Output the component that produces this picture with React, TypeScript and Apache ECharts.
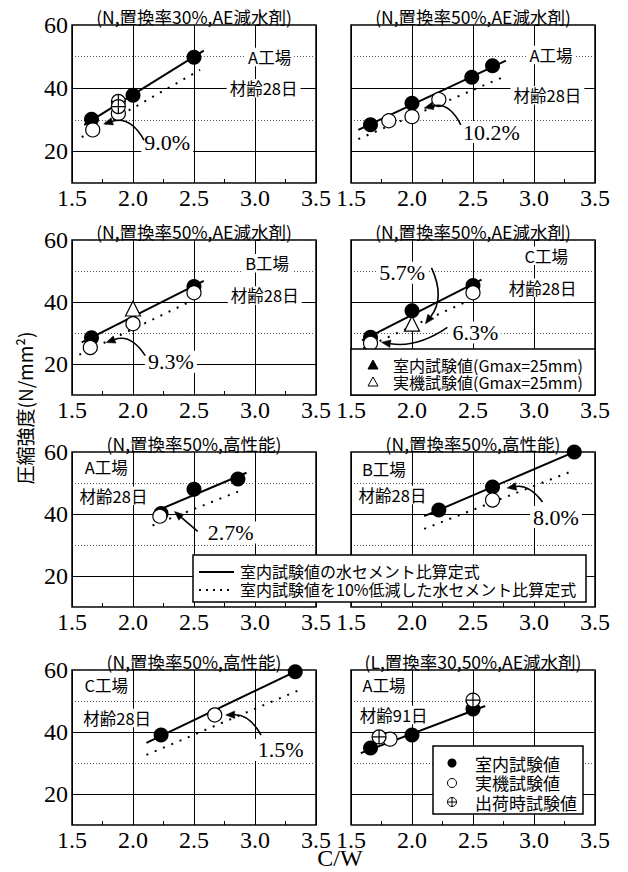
import React, { useEffect, useRef } from 'react';
import * as echarts from 'echarts';

const FONT_SANS = '"Noto Sans CJK JP", "Noto Sans", sans-serif';
const FONT_SERIF = '"Liberation Serif", "DejaVu Serif", serif';

// layout
const COL_LEFT = [72, 351];
const PLOT_W = 244;
const ROW_TOP = [25, 240, 452, 670];
const PLOT_H = [158, 155, 155, 155];

// axes
const xMin = 1.5, xMax = 3.5, xStep = 0.5;
const yMin = 10, yMax = 60, yStep = 10;
const yShownLabels = [20, 40, 60];
const yMajorLines = [20, 40];

// texts
const panelTitles = [
  '(N,置換率30%,AE減水剤)', '(N,置換率50%,AE減水剤)',
  '(N,置換率50%,AE減水剤)', '(N,置換率50%,AE減水剤)',
  '(N,置換率50%,高性能)', '(N,置換率50%,高性能)',
  '(N,置換率50%,高性能)', '(L,置換率30,50%,AE減水剤)',
];
const plantLabels = ['A工場', 'A工場', 'B工場', 'C工場', 'A工場', 'B工場', 'C工場', 'A工場'];
const ageLabels = ['材齢28日', '材齢28日', '材齢28日', '材齢28日', '材齢28日', '材齢28日', '材齢28日', '材齢91日'];
const plantPos = [[3.12, 49.9], [3.14, 50.5], [3.1, 52.5], [3.1, 54.9], [1.78, 55.2], [1.77, 54.5], [1.78, 55.2], [1.77, 55.2]];
const agePos = [[3.07, 40], [3.11, 37.8], [3.08, 42.1], [3.07, 44.6], [1.84, 45.9], [1.84, 46.1], [1.87, 44.5], [1.85, 45.5]];

// regression lines
const solidLines = [
  [[1.6, 28.4], [2.58, 51.9]],
  [[1.56, 26.8], [2.77, 48.7]],
  [[1.58, 27], [2.58, 46.8]],
  [[1.59, 27.6], [2.57, 47.2]],
  [[2.18, 40.8], [2.93, 53.3]],
  [[2.1, 39.3], [3.36, 60.5]],
  [[2.11, 36.5], [3.33, 59.5]],
  [[1.58, 33.2], [2.6, 48.4]],
];
const dottedLines = [
  [[1.58, 24.5], [2.55, 45.8]],
  [[1.56, 23.9], [2.77, 43.9]],
  [[1.56, 23], [2.45, 39.8]],
  [[1.6, 25], [2.45, 40.2]],
  [[2.16, 36.3], [2.91, 48]],
  [[2.1, 35.2], [3.29, 53.5]],
  [[2.11, 32.6], [3.36, 53.5]],
  [],
];

// points
const labCircles = [
  [[1.66, 30.2], [2.0, 37.8], [2.5, 49.8]],
  [[1.66, 28.4], [2.0, 35.2], [2.49, 43.5], [2.66, 47.1]],
  [[1.66, 28.5], [2.5, 45]],
  [[1.66, 28.6], [2.0, 37.2], [2.5, 45.3]],
  [[2.23, 40.2], [2.5, 48], [2.86, 51.3]],
  [[2.22, 41.3], [2.66, 48.7], [3.33, 60]],
  [[2.23, 39], [3.33, 59.4]],
  [[1.66, 34.8], [2.0, 39], [2.5, 47.4]],
];
const fieldCircles = [
  [[1.67, 26.8], [1.88, 32]],
  [[1.81, 29.7], [2.0, 31], [2.22, 36.4]],
  [[1.65, 25.3], [2.0, 33], [2.5, 43]],
  [[1.66, 26.7], [2.5, 43]],
  [[2.22, 39.3]],
  [[2.66, 44.5]],
  [[2.67, 45.5]],
  [[1.82, 37.7]],
];
const labTriangles = [[], [], [[2.0, 34.5]], [], [], [], [], []];
const fieldTriangles = [[], [], [[2.0, 37.9]], [[2.0, 33]], [], [], [], []];
const shipCircles = [[[1.88, 35.8], [1.88, 34.2]], [], [], [], [], [], [], [[1.73, 38.4], [2.5, 50.3]]];

// percentage annotations
const pctPanels = [0, 1, 2, 3, 3, 4, 5, 6];
const pctTexts = ['9.0%', '10.2%', '9.3%', '5.7%', '6.3%', '2.7%', '8.0%', '1.5%'];
const pctPos = [[2.28, 22.7], [2.65, 26.1], [2.31, 20.7], [1.92, 49.4], [2.52, 30.2], [2.8, 34], [3.18, 39], [3.21, 34.2]];
const arrowFrom = [[2.09, 23.6], [2.4, 28.4], [2.1, 22.7], [2.16, 51], [2.29, 31.8], [2.53, 34.4], [3.07, 43.9], [3.05, 39]];
const arrowTo = [[1.76, 28.7], [2.1, 33.7], [1.78, 26.9], [2.11, 33], [1.75, 27], [2.34, 40.8], [2.78, 48.4], [2.76, 45.5]];
const arrowCurve = [-0.4, -0.4, -0.4, 0.3, 0.2, 0, -0.3, -0.3];

const legendTri = ['室内試験値(Gmax=25mm)', '実機試験値(Gmax=25mm)'];
const legendLines = ['室内試験値の水セメント比算定式', '室内試験値を10%低減した水セメント比算定式'];
const legendPoints = ['室内試験値', '実機試験値', '出荷時試験値'];

const PLUS_CIRCLE = 'path://M0 -10A10 10 0 1 1 0 10A10 10 0 1 1 0 -10ZM-10 0L10 0M0 -10L0 10';

function staticGraphics() {
  const g: any[] = [];
  for (let i = 0; i < 8; i++) {
    const row = Math.floor(i / 2);
    const col = i % 2;
    g.push({
      type: 'text', z: 50,
      style: {
        text: panelTitles[i], x: COL_LEFT[col] + PLOT_W / 2, y: ROW_TOP[row] - 9,
        textAlign: 'center', textVerticalAlign: 'middle',
        font: `17.5px ${FONT_SANS}`, fill: '#000',
      },
    });
  }
  g.push({
    type: 'text', z: 50, x: 24, y: 408, rotation: Math.PI / 2,
    style: {
      text: '圧縮強度(N/mm²)', x: 0, y: 0, textAlign: 'center', textVerticalAlign: 'middle',
      font: `19px ${FONT_SANS}`, fill: '#000',
    },
  });
  g.push({
    type: 'text', z: 50,
    style: {
      text: 'C/W', x: 340, y: 858, textAlign: 'center', textVerticalAlign: 'middle',
      font: `24px ${FONT_SERIF}`, fill: '#000',
    },
  });

  // legend: triangles (panel 4)
  const l4x = COL_LEFT[1], l4y = 349, l4h = ROW_TOP[1] + PLOT_H[1] - 349;
  g.push({
    type: 'rect', z: 60, shape: { x: l4x, y: l4y, width: PLOT_W, height: l4h },
    style: { fill: '#fff', stroke: '#000', lineWidth: 1.5 },
  });
  g.push({
    type: 'polygon', z: 61, shape: { points: [[373, 360], [368, 369], [378, 369]] },
    style: { fill: '#000', stroke: '#000', lineWidth: 1 },
  });
  g.push({
    type: 'polygon', z: 61, shape: { points: [[373, 377], [368, 386], [378, 386]] },
    style: { fill: '#fff', stroke: '#000', lineWidth: 1 },
  });
  legendTri.forEach((t, j) => {
    g.push({
      type: 'text', z: 61,
      style: { text: t, x: 393, y: 365 + j * 17, textVerticalAlign: 'middle', font: `16px ${FONT_SANS}`, fill: '#000' },
    });
  });

  // legend: lines (panels 5-6)
  g.push({
    type: 'rect', z: 60, shape: { x: 193, y: 555, width: 393, height: 47 },
    style: { fill: '#fff', stroke: '#000', lineWidth: 1.5 },
  });
  g.push({
    type: 'line', z: 61, shape: { x1: 199, y1: 572, x2: 234, y2: 572 },
    style: { stroke: '#000', lineWidth: 2 },
  });
  g.push({
    type: 'line', z: 61, shape: { x1: 199, y1: 590, x2: 234, y2: 590 },
    style: { stroke: '#000', lineWidth: 2, lineDash: [2, 5] },
  });
  legendLines.forEach((t, j) => {
    g.push({
      type: 'text', z: 61,
      style: { text: t, x: 240, y: 571 + j * 18, textVerticalAlign: 'middle', font: `16px ${FONT_SANS}`, fill: '#000' },
    });
  });

  // legend: points (panel 8)
  g.push({
    type: 'rect', z: 60, shape: { x: 433, y: 746, width: 150, height: 68 },
    style: { fill: '#fff', stroke: '#000', lineWidth: 1.5 },
  });
  g.push({ type: 'circle', z: 61, shape: { cx: 452, cy: 763, r: 4.5 }, style: { fill: '#000' } });
  g.push({ type: 'circle', z: 61, shape: { cx: 452, cy: 783, r: 4.5 }, style: { fill: '#fff', stroke: '#000', lineWidth: 1 } });
  g.push({ type: 'circle', z: 61, shape: { cx: 452, cy: 802, r: 4.5 }, style: { fill: '#fff', stroke: '#000', lineWidth: 1 } });
  g.push({ type: 'line', z: 62, shape: { x1: 447.5, y1: 802, x2: 456.5, y2: 802 }, style: { stroke: '#000', lineWidth: 1 } });
  g.push({ type: 'line', z: 62, shape: { x1: 452, y1: 797.5, x2: 452, y2: 806.5 }, style: { stroke: '#000', lineWidth: 1 } });
  legendPoints.forEach((t, j) => {
    g.push({
      type: 'text', z: 61,
      style: { text: t, x: 475, y: 763 + j * 19.5, textVerticalAlign: 'middle', font: `17px ${FONT_SANS}`, fill: '#000' },
    });
  });
  return g;
}

function buildOption() {
  const grid: any[] = [];
  const xAxis: any[] = [];
  const yAxis: any[] = [];
  const series: any[] = [];

  for (let i = 0; i < 8; i++) {
    const row = Math.floor(i / 2);
    const col = i % 2;
    grid.push({
      left: COL_LEFT[col], top: ROW_TOP[row], width: PLOT_W, height: PLOT_H[row],
      show: true, borderColor: '#000', borderWidth: 1.5, backgroundColor: '#fff',
    });
    xAxis.push({
      gridIndex: i, type: 'value', min: xMin, max: xMax, interval: xStep,
      axisLine: { show: false },
      axisTick: { show: true, inside: true, length: 4, lineStyle: { color: '#000' } },
      minorTick: { show: true, splitNumber: 2, length: 4, lineStyle: { color: '#000' } },
      axisLabel: {
        color: '#000', fontFamily: FONT_SERIF, fontSize: 24, margin: 3,
        formatter: (v: number) => v.toFixed(1),
      },
      splitLine: { show: true, lineStyle: { color: '#000', width: 1 } },
    });
    yAxis.push({
      gridIndex: i, type: 'value', min: yMin, max: yMax, interval: yStep,
      axisLine: { show: false }, axisTick: { show: false },
      axisLabel: {
        show: col === 0, color: '#000', fontFamily: FONT_SERIF, fontSize: 24, margin: 4,
        formatter: (v: number) => (yShownLabels.indexOf(v) >= 0 ? String(v) : ''),
      },
      splitLine: { show: true, lineStyle: { color: '#555', width: 1, type: [1, 2] } },
    });

    const ax = { xAxisIndex: i, yAxisIndex: i };
    series.push({
      ...ax, type: 'line', data: solidLines[i], symbol: 'none', silent: true, z: 3,
      lineStyle: { color: '#000', width: 2 },
      markLine: {
        silent: true, symbol: 'none', z: 2, animation: false,
        label: { show: false },
        lineStyle: { color: '#000', width: 1, type: 'solid' },
        emphasis: { disabled: true },
        data: yMajorLines.map((v) => ({ yAxis: v })),
      },
    });
    if (dottedLines[i].length) {
      series.push({
        ...ax, type: 'line', data: dottedLines[i], symbol: 'none', silent: true, z: 3,
        lineStyle: { color: '#000', width: 2, type: [2, 7] },
      });
    }
    series.push({
      ...ax, type: 'scatter', data: labCircles[i], symbol: 'circle', symbolSize: 15, z: 4, silent: true,
      itemStyle: { color: '#000', opacity: 1 },
    });
    series.push({
      ...ax, type: 'scatter', data: labTriangles[i], symbol: 'triangle', symbolSize: 15, z: 4, silent: true,
      itemStyle: { color: '#000', opacity: 1 },
    });
    series.push({
      ...ax, type: 'scatter', data: fieldCircles[i], symbol: 'circle', symbolSize: 14, z: 5, silent: true,
      itemStyle: { color: '#fff', borderColor: '#000', borderWidth: 1.2, opacity: 1 },
    });
    series.push({
      ...ax, type: 'scatter', data: fieldTriangles[i], symbol: 'triangle', symbolSize: 15, z: 5, silent: true,
      itemStyle: { color: '#fff', borderColor: '#000', borderWidth: 1.2, opacity: 1 },
    });
    series.push({
      ...ax, type: 'scatter', data: shipCircles[i], symbol: PLUS_CIRCLE, symbolSize: 14, z: 5, silent: true,
      itemStyle: { color: '#fff', borderColor: '#000', borderWidth: 1.2, opacity: 1 },
    });
    series.push({
      ...ax, type: 'scatter', symbolSize: 1, z: 6, silent: true,
      itemStyle: { color: 'rgba(0,0,0,0)', opacity: 1 },
      label: {
        show: true, position: 'inside', formatter: (p: any) => p.name,
        fontFamily: FONT_SANS, fontSize: 16.5, color: '#000', backgroundColor: '#fff', padding: [1, 3],
      },
      data: [
        { name: plantLabels[i], value: plantPos[i] },
        { name: ageLabels[i], value: agePos[i] },
      ],
    });
  }

  for (let k = 0; k < pctTexts.length; k++) {
    const i = pctPanels[k];
    series.push({
      xAxisIndex: i, yAxisIndex: i, type: 'scatter', symbolSize: 1, z: 6, silent: true,
      itemStyle: { color: 'rgba(0,0,0,0)', opacity: 1 },
      label: {
        show: true, position: 'inside', formatter: (p: any) => p.name,
        fontFamily: FONT_SERIF, fontSize: 22, color: '#000', backgroundColor: '#fff', padding: [0, 3],
      },
      data: [{ name: pctTexts[k], value: pctPos[k] }],
    });
  }

  return {
    animation: false,
    backgroundColor: '#fff',
    grid, xAxis, yAxis, series,
    graphic: staticGraphics(),
  };
}

function arrowGraphics(chart: any) {
  const g: any[] = [];
  for (let k = 0; k < pctTexts.length; k++) {
    const i = pctPanels[k];
    const p1 = chart.convertToPixel({ gridIndex: i }, arrowFrom[k]);
    const p2 = chart.convertToPixel({ gridIndex: i }, arrowTo[k]);
    const c = arrowCurve[k];
    const cp = [
      (p1[0] + p2[0]) / 2 - (p1[1] - p2[1]) * c,
      (p1[1] + p2[1]) / 2 - (p2[0] - p1[0]) * c,
    ];
    let dx = p2[0] - cp[0], dy = p2[1] - cp[1];
    const len = Math.hypot(dx, dy) || 1;
    dx /= len; dy /= len;
    const headLen = 9, headW = 3.8;
    const bx = p2[0] - dx * headLen, by = p2[1] - dy * headLen;
    g.push({
      type: 'bezierCurve', z: 70,
      shape: { x1: p1[0], y1: p1[1], x2: bx, y2: by, cpx1: cp[0], cpy1: cp[1] },
      style: { stroke: '#000', lineWidth: 1.6, fill: null },
    });
    g.push({
      type: 'polygon', z: 70,
      shape: { points: [[p2[0], p2[1]], [bx - dy * headW, by + dx * headW], [bx + dy * headW, by - dx * headW]] },
      style: { fill: '#000', stroke: '#000', lineWidth: 0.5 },
    });
  }
  return g;
}

export default function App() {
  const ref = useRef<HTMLDivElement>(null);
  useEffect(() => {
    document.body.style.margin = '0';
    if (!ref.current) return;
    const chart = echarts.init(ref.current, null, { renderer: 'svg' });
    chart.setOption(buildOption());
    chart.setOption({ graphic: [...staticGraphics(), ...arrowGraphics(chart)] });
    return () => chart.dispose();
  }, []);
  return <div ref={ref} style={{ width: 628, height: 872 }} />;
}
